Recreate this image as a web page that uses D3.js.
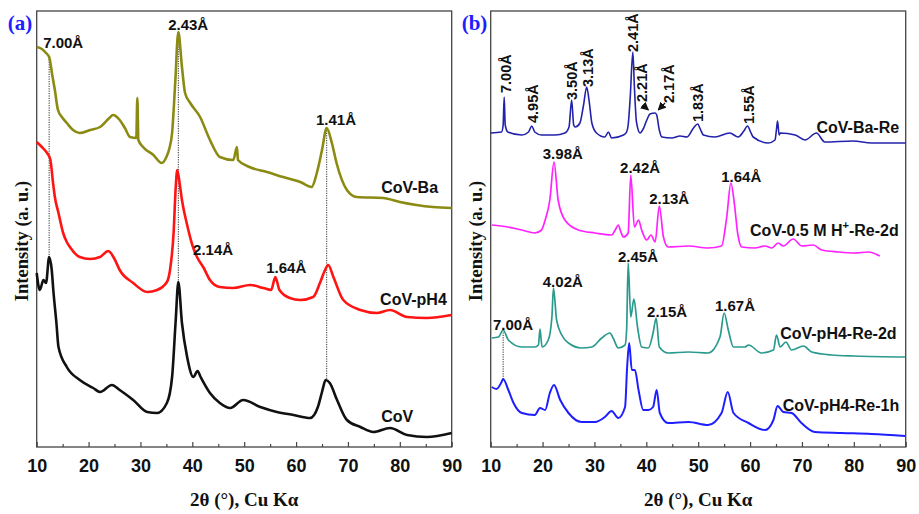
<!DOCTYPE html>
<html>
<head>
<meta charset="utf-8">
<script src="https://cdn.jsdelivr.net/npm/d3@7"></script>
<style>
  body { margin: 0; background: #fff; }
  svg { display: block; font-family: "Liberation Sans", Arial, sans-serif; }
</style>
</head>
<body>
<svg id="chart" width="919" height="514"></svg>
<script>
/* ---------- data: [2θ (deg), intensity (a.u.)] ---------- */
const covBa = [
  [10, 400], [11, 398], [11.8, 394], [12.4, 390], [13.0, 372], [13.5, 357], [14.1, 337],
  [15.0, 329], [15.8, 324], [17.0, 317], [18.3, 314], [20.3, 317], [22.2, 320], [24.0, 329],
  [24.7, 332], [26.0, 327], [27.0, 319], [28.0, 310], [29.2, 309], [29.4, 349], [29.6, 307],
  [30.5, 300], [32.5, 292], [34.1, 284], [35.0, 290], [35.6, 299], [36.1, 314], [36.7, 364],
  [37.3, 415], [38.0, 380], [38.6, 354], [39.6, 344], [41.5, 330], [43.4, 307], [45.3, 290],
  [47.9, 287], [48.6, 300], [48.8, 287], [51.0, 280], [54.4, 275], [57.5, 270], [60.8, 265],
  [63.0, 260], [64.0, 274], [65.0, 297], [65.9, 319], [66.9, 304], [67.8, 284], [69.8, 257],
  [71.7, 250], [76.8, 249], [80.0, 245], [83.2, 242], [86.4, 240], [90.0, 239]
];
const covPh4 = [
  [10, 305], [11, 300], [12, 294], [12.6, 288], [13.2, 262], [13.5, 250], [14.2, 234],
  [15.1, 214], [15.8, 205], [16.4, 200], [18.3, 190], [20.3, 188], [22.2, 190], [23.8, 196],
  [25.0, 188], [26.0, 177], [28.6, 164], [31.3, 155], [33.2, 157], [35.1, 165], [35.7, 177],
  [36.4, 215], [36.8, 260], [37.1, 277], [37.6, 262], [38.0, 247], [39.0, 222], [40.0, 202],
  [40.9, 190], [42.1, 180], [43.4, 167], [45.3, 160], [47.9, 159], [51.1, 162], [53.7, 159],
  [55.2, 157], [56.0, 170], [56.8, 157], [58.8, 149], [60.8, 147], [63.3, 150], [64.6, 164],
  [65.5, 176], [66.2, 182], [67.2, 170], [69.1, 147], [72.4, 137], [75.6, 134], [78.1, 137],
  [81.4, 130], [85.2, 129], [90, 132]
];
const cov = [
  [10, 174], [10.6, 157], [11.3, 167], [11.8, 164], [12.4, 190], [12.9, 177], [13.2, 157],
  [13.8, 124], [14.2, 100], [15.8, 80], [18.3, 67], [20.9, 59], [22.2, 55], [24.5, 62],
  [26.0, 57], [28.6, 47], [31.3, 35], [33.2, 34], [35.1, 44], [36.1, 70], [36.8, 127],
  [37.3, 165], [38.0, 124], [39.0, 90], [40.2, 70], [41.0, 76], [41.6, 70], [43.4, 54],
  [45.3, 44], [47.3, 39], [49.8, 47], [53.1, 40], [56.3, 35], [59.5, 32], [62.7, 29],
  [64.2, 40], [65.0, 55], [65.7, 67], [66.5, 64], [67.9, 47], [69.8, 27], [72.4, 20],
  [74.9, 15], [78.1, 19], [81.4, 12], [85.2, 10], [90, 14]
];
const covBaRe = [
  [10.0, 314], [12.1, 315], [12.4, 322], [12.6, 350], [12.8, 322], [13.3, 315], [16.0, 312],
  [17.3, 315], [17.9, 321], [18.5, 315], [19.8, 312], [22.4, 312], [24.3, 314], [25.1, 320],
  [25.6, 347], [26.0, 322], [26.3, 320], [27.2, 324], [27.9, 342], [28.5, 360], [29.0, 345],
  [29.5, 324], [30.4, 314], [32.0, 310], [32.7, 315], [33.3, 309], [35.6, 312], [36.2, 315],
  [36.5, 322], [36.9, 350], [37.4, 395], [37.7, 360], [38.1, 325], [38.8, 314], [39.4, 318],
  [40.1, 327], [40.7, 333], [41.7, 334], [42.0, 332], [42.5, 317], [43.0, 310], [44.9, 309],
  [46.5, 311], [47.8, 310], [49.1, 319], [49.9, 323], [50.4, 318], [51.0, 312], [53.2, 310],
  [56.1, 314], [57.7, 310], [58.8, 316], [59.5, 321], [60.1, 315], [60.6, 310], [63.5, 304],
  [64.8, 307], [65.1, 318], [65.3, 326], [65.6, 312], [65.8, 314], [68.7, 312], [70.6, 307],
  [72.8, 314], [74.4, 305], [79.9, 306], [83.4, 304], [90.0, 304]
];
const covAcidRe2d = [
  [10.2, 222], [13.3, 220], [16.0, 217], [18.5, 214], [19.8, 217], [20.5, 227], [21.4, 247],
  [22.2, 285], [23.0, 247], [24.3, 227], [26.9, 217], [30.1, 214], [33.3, 212], [34.0, 217],
  [34.6, 222], [35.1, 215], [35.6, 210], [36.5, 214], [37.0, 272], [37.7, 220], [38.5, 227],
  [39.1, 217], [40.1, 207], [40.9, 212], [41.7, 205], [42.5, 241], [43.3, 210], [44.2, 200],
  [48.1, 201], [51.9, 199], [54.5, 201], [55.5, 230], [56.3, 264], [57.0, 242], [57.6, 214],
  [58.4, 200], [60.9, 199], [62.9, 201], [64.2, 199], [65.4, 204], [66.4, 201], [68.3, 208],
  [70.0, 201], [72.2, 202], [73.8, 197], [77.0, 195], [80.2, 194], [82.8, 195], [85.0, 191]
];
const covPh4Re2d = [
  [10.2, 109], [11.5, 110], [12.4, 117], [13.4, 107], [16.0, 100], [18.5, 100], [19.2, 102],
  [19.5, 118], [19.9, 100], [21.1, 107], [21.8, 130], [22.1, 159], [22.7, 127], [23.7, 112],
  [25.0, 104], [27.5, 99], [29.5, 100], [31.4, 109], [33.0, 114], [33.6, 109], [34.6, 99],
  [35.9, 102], [36.2, 117], [36.5, 184], [37.0, 130], [37.6, 148], [38.3, 120], [39.1, 100],
  [40.4, 99], [41.3, 114], [41.9, 129], [42.5, 100], [44.2, 94], [48.1, 95], [51.9, 94],
  [54.2, 110], [55.0, 134], [55.8, 117], [56.8, 100], [59.0, 100], [59.7, 102], [62.2, 94],
  [64.5, 97], [65.1, 112], [65.8, 100], [66.9, 105], [68.0, 97], [70.3, 101], [71.9, 95],
  [75.7, 92], [80.2, 91], [89.9, 90]
];
const covPh4Re1h = [
  [10.2, 60], [11.1, 58], [12.1, 65], [12.4, 68], [13.4, 57], [14.4, 44], [16.0, 34],
  [18.5, 32], [19.5, 39], [20.5, 37], [21.4, 54], [22.2, 62], [23.4, 47], [25.0, 34],
  [27.5, 25], [30.1, 25], [32.0, 30], [33.3, 36], [34.6, 29], [35.9, 40], [36.3, 80],
  [36.7, 104], [37.2, 77], [37.8, 77], [38.5, 57], [39.4, 37], [40.4, 37], [41.3, 40],
  [42.0, 57], [42.6, 34], [44.2, 24], [48.1, 25], [51.9, 22], [54.5, 34], [55.7, 55],
  [56.8, 34], [59.7, 24], [62.9, 17], [64.5, 27], [65.3, 41], [66.4, 35], [68.0, 34],
  [69.9, 24], [72.5, 15], [77.7, 14], [83.4, 13], [89.9, 11]
];

const ticksMajor = [10, 20, 30, 40, 50, 60, 70, 80, 90];
const ticksMinor = [15, 25, 35, 45, 55, 65, 75, 85];

// peak labels: [text, 2θ, intensity]
const peaksA = [
  ['7.00Å', 15.1, 404], ['2.43Å', 39.2, 422], ['1.41Å', 67.7, 327],
  ['2.14Å', 44.0, 197], ['1.64Å', 58.1, 179]
];
const peaksBVertical = [
  ['7.00Å', 12.95, 354], ['4.95Å', 18.15, 324], ['3.50Å', 25.7, 347], ['3.13Å', 28.7, 360],
  ['2.41Å', 37.4, 395], ['2.21Å', 39.2, 345], ['2.17Å', 44.4, 344], ['1.83Å', 50.0, 325],
  ['1.55Å', 59.7, 323]
];
const peaksBHorizontal = [
  ['3.98Å', 23.9, 293], ['2.42Å', 38.8, 279], ['2.13Å', 44.4, 248], ['1.64Å', 58.3, 270],
  ['7.00Å', 14.3, 122], ['4.02Å', 23.9, 165], ['2.45Å', 38.4, 190], ['2.15Å', 44.0, 135],
  ['1.67Å', 57.1, 141]
];
// dotted drop lines: [2θ, intensity from, intensity to]
const dropLinesA = [[12.4, 390, 190], [37.3, 415, 165], [65.9, 319, 67]];
const dropLinesB = [[12.4, 117, 68]];
// arrows: [2θ tail, I tail, 2θ head, I head]
const arrowsB = [[39.3, 342, 40.4, 337], [43.6, 344, 42.3, 337]];

const namesA = [['CoV-Ba', 76.4, 260], ['CoV-pH4', 76.2, 148], ['CoV', 76.4, 31]];
const namesB = [
  ['CoV-Ba-Re', 72.8, 320], ['CoV-0.5 M H^+-Re-2d', 60.0, 217],
  ['CoV-pH4-Re-2d', 65.8, 114], ['CoV-pH4-Re-1h', 66.3, 42]
];

/* ---------- setup ---------- */
const svg = d3.select('#chart');
svg.append('rect').attr('width', 919).attr('height', 514).attr('fill', '#fff');

svg.append('defs').append('marker')
  .attr('id', 'arrow')
  .attr('viewBox', '0 0 10 10')
  .attr('refX', 9).attr('refY', 5)
  .attr('markerWidth', 7).attr('markerHeight', 7)
  .attr('orient', 'auto')
  .append('path')
  .attr('d', 'M0,0 L10,5 L0,10 z')
  .attr('fill', '#111');

const plotTop = 11, plotBottom = 447;

function makePanel(left, right, tag) {
  const x = d3.scaleLinear().domain([10, 90]).range([left, right]);
  const y = d3.scaleLinear().domain([0, 436]).range([plotBottom, plotTop]);
  const g = svg.append('g');

  g.append('rect')
    .attr('x', left).attr('y', plotTop)
    .attr('width', right - left).attr('height', plotBottom - plotTop)
    .attr('fill', 'none').attr('stroke', '#444').attr('stroke-width', 1.3);

  g.append('g')
    .attr('transform', `translate(0,${plotBottom})`)
    .call(d3.axisBottom(x).tickValues(ticksMajor).tickSize(-5).tickPadding(12).tickFormat(d3.format('d')))
    .call(s => s.select('.domain').remove())
    .call(s => s.selectAll('line').attr('stroke', '#444').attr('stroke-width', 1.2))
    .call(s => s.selectAll('text')
      .style('font-family', '"Liberation Sans", Arial, sans-serif')
      .style('font-weight', '700')
      .style('font-size', '18px')
      .style('fill', '#111'));

  g.append('g')
    .attr('transform', `translate(0,${plotBottom})`)
    .call(d3.axisBottom(x).tickValues(ticksMinor).tickSize(-3).tickFormat(''))
    .call(s => s.select('.domain').remove())
    .call(s => s.selectAll('line').attr('stroke', '#444').attr('stroke-width', 1.2));

  // panel tag
  g.append('text')
    .attr('x', left - 29).attr('y', 30)
    .attr('font-family', '"Liberation Serif", "Times New Roman", serif')
    .attr('font-weight', 'bold').attr('font-size', 21)
    .attr('fill', '#1d1dff')
    .text(tag);

  // axis titles
  g.append('text')
    .attr('x', (left + right) / 2).attr('y', 506)
    .attr('text-anchor', 'middle')
    .attr('font-family', '"Liberation Serif", "Times New Roman", serif')
    .attr('font-weight', 'bold').attr('font-size', 19)
    .attr('fill', '#111')
    .text('2θ (°), Cu Kα');

  g.append('text')
    .attr('transform', `translate(${left - 9},241) rotate(-90)`)
    .attr('text-anchor', 'middle')
    .attr('font-family', '"Liberation Serif", "Times New Roman", serif')
    .attr('font-weight', 'bold').attr('font-size', 18.5)
    .attr('fill', '#111')
    .text('Intensity (a. u.)');

  return { g, x, y };
}

function drawSeries(p, data, color, width) {
  const line = d3.line().x(d => p.x(d[0])).y(d => p.y(d[1])).curve(d3.curveMonotoneX);
  p.g.append('path')
    .datum(data)
    .attr('fill', 'none')
    .attr('stroke', color)
    .attr('stroke-width', width)
    .attr('stroke-linejoin', 'round')
    .attr('d', line);
}

function drawDrops(p, drops) {
  p.g.selectAll(null)
    .data(drops)
    .enter()
    .append('line')
    .attr('x1', d => p.x(d[0])).attr('x2', d => p.x(d[0]))
    .attr('y1', d => p.y(d[1])).attr('y2', d => p.y(d[2]))
    .attr('stroke', '#333').attr('stroke-width', 1)
    .attr('stroke-dasharray', '1.2,1.2');
}

function drawLabels(p, labels, size) {
  p.g.selectAll(null)
    .data(labels)
    .enter()
    .append('text')
    .attr('x', d => p.x(d[1])).attr('y', d => p.y(d[2]))
    .attr('dy', '0.36em')
    .attr('text-anchor', 'middle')
    .attr('font-size', size).attr('font-weight', 'bold')
    .attr('fill', '#111')
    .text(d => d[0]);
}

function drawNames(p, names) {
  names.forEach(([name, t, v]) => {
    const txt = p.g.append('text')
      .attr('x', p.x(t)).attr('y', p.y(v))
      .attr('dy', '0.36em')
      .attr('font-size', 16).attr('font-weight', 'bold')
      .attr('fill', '#111');
    const parts = name.split('^+');
    txt.append('tspan').text(parts[0]);
    if (parts.length > 1) {
      txt.append('tspan').attr('font-size', 11).attr('dy', '-0.6em').text('+');
      txt.append('tspan').attr('dy', '0.42em').text(parts[1]);
    }
  });
}

/* ---------- panel (a) ---------- */
const pa = makePanel(36.7, 451.7, '(a)');
drawDrops(pa, dropLinesA);
drawSeries(pa, cov, '#111', 2.6);
drawSeries(pa, covPh4, '#ff1414', 2.6);
drawSeries(pa, covBa, '#8b8b14', 2.6);
drawLabels(pa, peaksA, 15);
drawNames(pa, namesA);

/* ---------- panel (b) ---------- */
const pb = makePanel(490.7, 905.7, '(b)');
drawDrops(pb, dropLinesB);
drawSeries(pb, covPh4Re1h, '#1e1eff', 2);
drawSeries(pb, covPh4Re2d, '#2a9a8e', 1.7);
drawSeries(pb, covAcidRe2d, '#ff22ff', 1.7);
drawSeries(pb, covBaRe, '#2222aa', 1.6);
drawLabels(pb, peaksBHorizontal, 15);
drawNames(pb, namesB);

pb.g.selectAll(null)
  .data(peaksBVertical)
  .enter()
  .append('text')
  .attr('transform', d => `translate(${pb.x(d[1]) + 5},${pb.y(d[2])}) rotate(-90)`)
  .attr('font-size', 14.5).attr('font-weight', 'bold')
  .attr('fill', '#111')
  .text(d => d[0]);

pb.g.selectAll(null)
  .data(arrowsB)
  .enter()
  .append('line')
  .attr('x1', d => pb.x(d[0])).attr('y1', d => pb.y(d[1]))
  .attr('x2', d => pb.x(d[2])).attr('y2', d => pb.y(d[3]))
  .attr('stroke', '#111').attr('stroke-width', 1.2)
  .attr('marker-end', 'url(#arrow)');
</script>
</body>
</html>
